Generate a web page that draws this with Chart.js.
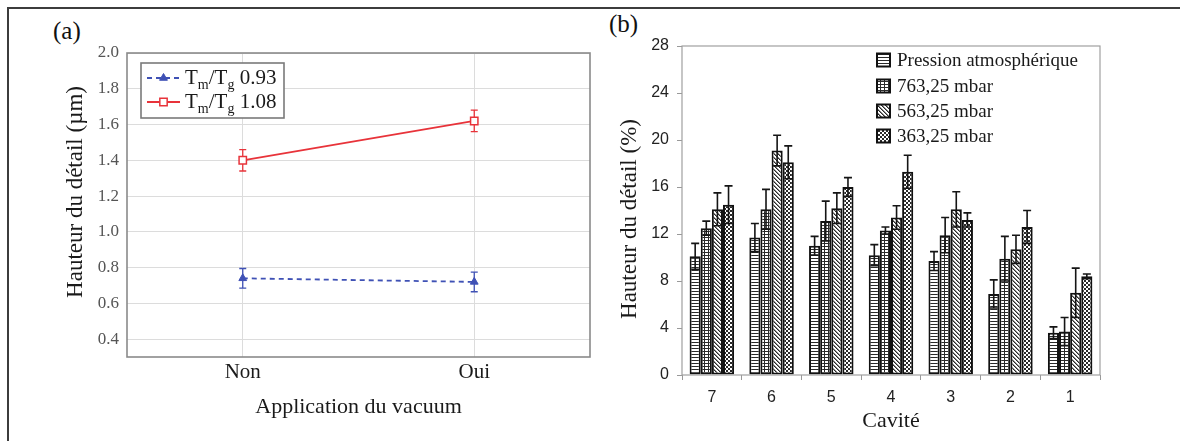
<!DOCTYPE html>
<html><head><meta charset="utf-8">
<script src="https://cdn.jsdelivr.net/npm/chart.js@4.4.0/dist/chart.umd.min.js"></script>
<style>
html,body{margin:0;padding:0;background:#fff;width:1180px;height:441px;overflow:hidden;position:relative;}
#frame{position:absolute;left:7px;top:7px;width:1200px;height:500px;border-left:2px solid #3c3c3c;border-top:2px solid #3c3c3c;}
#ca{position:absolute;left:0;top:0;}
#cb{position:absolute;left:600px;top:0;}
.lab{position:absolute;font-family:"Liberation Serif",serif;font-size:25px;color:#111;line-height:1;}
</style></head>
<body>
<div id="frame"></div>
<div class="lab" style="left:53px;top:18px">(a)</div>
<div class="lab" style="left:609px;top:11px">(b)</div>
<canvas id="ca" width="600" height="441" style="width:600px;height:441px"></canvas>
<canvas id="cb" width="580" height="441" style="width:580px;height:441px"></canvas>
<script>
// ---------- data (a) ----------
const vacuumLabels = ['Non', 'Oui'];
const seriesA = ['0.93', '1.08'];
const height093 = [0.74, 0.72];
const err093 = [0.055, 0.055];
const height108 = [1.40, 1.62];
const err108 = [0.06, 0.06];
const yTicksA = [0.4, 0.6, 0.8, 1.0, 1.2, 1.4, 1.6, 1.8, 2.0];
const titleXA = 'Application du vacuum';
const titleYA = 'Hauteur du détail (µm)';

// ---------- data (b) ----------
const cavities = ['7', '6', '5', '4', '3', '2', '1'];
const seriesB = ['Pression atmosphérique', '763,25 mbar', '563,25 mbar', '363,25 mbar'];
const atm = [10.1, 11.7, 11.0, 10.2, 9.7, 6.9, 3.6];
const atmErr = [1.1, 1.2, 0.8, 0.9, 0.8, 1.2, 0.5];
const p763 = [12.5, 14.1, 13.1, 12.3, 11.9, 9.9, 3.7];
const p763Err = [0.6, 1.7, 1.7, 0.3, 1.5, 1.9, 1.2];
const p563 = [14.1, 19.1, 14.2, 13.4, 14.1, 10.7, 7.0];
const p563Err = [1.4, 1.3, 1.3, 1.0, 1.5, 1.2, 2.1];
const p363 = [14.5, 18.1, 16.0, 17.3, 13.2, 12.6, 8.4];
const p363Err = [1.6, 1.4, 0.8, 1.4, 0.6, 1.4, 0.2];
const titleXB = 'Cavité';
const titleYB = 'Hauteur du détail (%)';

const SERIF = '"Liberation Serif", "Times New Roman", serif';
const SANS = '"Liberation Sans", Arial, sans-serif';
const BLUE = '#3f51b5';
const RED = '#e8333a';

// ---------- patterns ----------
function makePattern(type) {
  const c = document.createElement('canvas');
  const dark = '#2a2a2a';
  if (type === 'h') { c.width = 3; c.height = 3; }
  else if (type === 'grid') { c.width = 4; c.height = 3; }
  else { c.width = 4; c.height = 4; }
  const g = c.getContext('2d');
  g.fillStyle = '#fff'; g.fillRect(0, 0, c.width, c.height);
  g.fillStyle = dark;
  if (type === 'h') { g.fillRect(0, 0, 3, 1); }
  else if (type === 'grid') { g.fillRect(0, 0, 4, 1); g.fillRect(0, 0, 1, 3); }
  else if (type === 'diag') {
    for (let i = 0; i < 4; i++) g.fillRect(i, i, 1, 1);
    g.fillStyle = '#888';
    for (let i = 0; i < 4; i++) g.fillRect((i + 1) % 4, i, 1, 1);
  } else if (type === 'check') { g.fillRect(0, 0, 2, 2); g.fillRect(2, 2, 2, 2); }
  const ctx = document.getElementById('cb').getContext('2d');
  return ctx.createPattern(c, 'repeat');
}
const patterns = [makePattern('h'), makePattern('grid'), makePattern('diag'), makePattern('check')];

// ---------- helpers ----------
function drawRotTitle(ctx, text, x, y, size) {
  ctx.save();
  ctx.translate(x, y);
  ctx.rotate(-Math.PI / 2);
  ctx.font = size + 'px ' + SERIF;
  ctx.fillStyle = '#1a1a1a';
  ctx.textAlign = 'center';
  ctx.textBaseline = 'middle';
  ctx.fillText(text, 0, 0);
  ctx.restore();
}
function drawSubText(ctx, x, y, ratio) {
  const parts = [['T', 21, 0], ['m', 14, 5], ['/', 21, 0], ['T', 21, 0], ['g', 14, 5], [' ' + ratio, 21, 0]];
  ctx.save();
  ctx.fillStyle = '#1a1a1a';
  ctx.textBaseline = 'alphabetic';
  ctx.textAlign = 'left';
  for (const [t, s, dy] of parts) {
    ctx.font = s + 'px ' + SERIF;
    ctx.fillText(t, x, y + dy);
    x += ctx.measureText(t).width;
  }
  ctx.restore();
}

// ---------- chart (a) plugins ----------
const frameA = {
  id: 'frameA',
  beforeDatasetsDraw(chart) {
    const { ctx, chartArea: a } = chart;
    ctx.save();
    ctx.strokeStyle = '#8a8a8a';
    ctx.lineWidth = 1.6;
    ctx.strokeRect(a.left, a.top, a.right - a.left, a.bottom - a.top);
    ctx.restore();
    // error bars under the markers
    const y = chart.scales.y;
    chart.data.datasets.forEach((ds, i) => {
      const meta = chart.getDatasetMeta(i);
      ctx.save();
      ctx.strokeStyle = ds.borderColor;
      ctx.lineWidth = 1.3;
      meta.data.forEach((pt, j) => {
        const v = ds.data[j], e = ds.errors[j];
        const yt = y.getPixelForValue(v + e), yb = y.getPixelForValue(v - e);
        ctx.beginPath();
        ctx.moveTo(pt.x, yt); ctx.lineTo(pt.x, yb);
        ctx.moveTo(pt.x - 3.5, yt); ctx.lineTo(pt.x + 3.5, yt);
        ctx.moveTo(pt.x - 3.5, yb); ctx.lineTo(pt.x + 3.5, yb);
        ctx.stroke();
      });
      ctx.restore();
    });
  },
  afterDraw(chart) {
    const { ctx } = chart;
    drawRotTitle(ctx, titleYA, 76, 192, 23);
    // legend
    ctx.save();
    ctx.fillStyle = '#fff';
    ctx.strokeStyle = '#7a7a7a';
    ctx.lineWidth = 1.6;
    ctx.fillRect(141, 63, 143, 55);
    ctx.strokeRect(141, 63, 143, 55);
    const rows = [78, 102];
    chart.data.datasets.forEach((ds, i) => {
      const ry = rows[i];
      ctx.save();
      ctx.strokeStyle = ds.borderColor;
      ctx.lineWidth = ds.borderWidth;
      ctx.setLineDash(ds.borderDash || []);
      ctx.beginPath(); ctx.moveTo(147, ry); ctx.lineTo(180, ry); ctx.stroke();
      ctx.restore();
      ctx.save();
      ctx.fillStyle = ds.pointBackgroundColor; ctx.strokeStyle = ds.pointBorderColor; ctx.lineWidth = ds.pointBorderWidth;
      ctx.beginPath();
      if (ds.pointStyle === 'triangle') {
        const r = ds.pointRadius;
        ctx.moveTo(163.5, ry - r); ctx.lineTo(163.5 + r * 0.87, ry + r * 0.5); ctx.lineTo(163.5 - r * 0.87, ry + r * 0.5); ctx.closePath();
        ctx.fill(); ctx.stroke();
      } else {
        const s = ds.pointRadius * Math.SQRT1_2;
        ctx.rect(163.5 - s, ry - s, 2 * s, 2 * s); ctx.fill(); ctx.stroke();
      }
      ctx.restore();
      drawSubText(ctx, 185, ry + 6, seriesA[i]);
    });
    ctx.restore();
  }
};

new Chart(document.getElementById('ca'), {
  type: 'line',
  data: {
    labels: vacuumLabels,
    datasets: [
      {
        label: 'Tm/Tg ' + seriesA[0], data: height093, errors: err093,
        borderColor: BLUE, backgroundColor: BLUE, borderWidth: 1.8, borderDash: [5, 4],
        pointStyle: 'triangle', pointRadius: 4.5, pointBackgroundColor: BLUE, pointBorderColor: BLUE,
        pointBorderWidth: 1, tension: 0, fill: false
      },
      {
        label: 'Tm/Tg ' + seriesA[1], data: height108, errors: err108,
        borderColor: RED, backgroundColor: RED, borderWidth: 1.8,
        pointStyle: 'rect', pointRadius: 5.2, pointBackgroundColor: '#fff', pointBorderColor: RED,
        pointBorderWidth: 1.5, tension: 0, fill: false
      }
    ]
  },
  options: {
    responsive: false, animation: false, events: [],
    layout: { padding: { left: 0, top: 53, right: 10, bottom: 0 } },
    plugins: { legend: { display: false }, tooltip: { enabled: false } },
    scales: {
      x: {
        type: 'category', offset: true,
        grid: { color: '#dcdcdc', drawTicks: false, lineWidth: 1 },
        border: { display: false },
        ticks: { padding: 3, color: '#1a1a1a', font: { family: SERIF, size: 21 } },
        title: { display: true, text: titleXA, color: '#1a1a1a', font: { family: SERIF, size: 22 }, padding: { top: 0, bottom: 21 } },
        afterFit: s => { s.height = 84; }
      },
      y: {
        min: 0.3, max: 2.0,
        afterBuildTicks: s => { s.ticks = yTicksA.map(v => ({ value: v })); },
        grid: { color: '#dcdcdc', drawTicks: false, lineWidth: 1 },
        border: { display: false },
        ticks: { padding: 8, color: '#555', font: { family: SERIF, size: 17 }, callback: v => Number(v).toFixed(1) },
        afterFit: s => { s.width = 127; }
      }
    }
  },
  plugins: [frameA]
});

// ---------- chart (b) ----------
const pluginB = {
  id: 'pluginB',
  afterDatasetsDraw(chart) {
    const { ctx, chartArea: a } = chart;
    const y = chart.scales.y;
    ctx.save();
    ctx.strokeStyle = '#a0a0a0';
    ctx.lineWidth = 1.2;
    ctx.strokeRect(a.left, a.top, a.right - a.left, a.bottom - a.top);
    ctx.strokeStyle = '#151515';
    ctx.lineWidth = 1.6;
    chart.data.datasets.forEach((ds, i) => {
      const meta = chart.getDatasetMeta(i);
      meta.data.forEach((bar, j) => {
        const v = ds.data[j], e = ds.errors[j];
        const x = bar.x;
        const yt = y.getPixelForValue(v + e), yb = y.getPixelForValue(v - e);
        ctx.beginPath();
        ctx.moveTo(x, yt); ctx.lineTo(x, yb);
        ctx.moveTo(x - 4, yt); ctx.lineTo(x + 4, yt);
        ctx.moveTo(x - 4, yb); ctx.lineTo(x + 4, yb);
        ctx.stroke();
      });
    });
    ctx.restore();
  },
  afterDraw(chart) {
    const { ctx } = chart;
    drawRotTitle(ctx, titleYB, 30, 219, 23);
    const rows = [60, 86, 111, 136];
    ctx.save();
    chart.data.datasets.forEach((ds, i) => {
      const ry = rows[i];
      ctx.fillStyle = ds.backgroundColor;
      ctx.fillRect(277, ry - 6.5, 13, 13);
      ctx.strokeStyle = '#111';
      ctx.lineWidth = 2;
      ctx.strokeRect(277, ry - 6.5, 13, 13);
      ctx.fillStyle = '#1a1a1a';
      ctx.font = '19px ' + SERIF;
      ctx.textBaseline = 'middle';
      ctx.textAlign = 'left';
      ctx.fillText(seriesB[i], 297, ry + 1);
    });
    ctx.restore();
  }
};

const valuesB = [atm, p763, p563, p363];
const errorsB = [atmErr, p763Err, p563Err, p363Err];
new Chart(document.getElementById('cb'), {
  type: 'bar',
  data: {
    labels: cavities,
    datasets: seriesB.map((name, i) => ({
      label: name, data: valuesB[i], errors: errorsB[i],
      backgroundColor: patterns[i], borderColor: '#111', borderWidth: 2, borderSkipped: false,
      categoryPercentage: 0.745, barPercentage: 1.0
    }))
  },
  options: {
    responsive: false, animation: false, events: [],
    layout: { padding: { left: 0, top: 46, right: 80, bottom: 0 } },
    plugins: { legend: { display: false }, tooltip: { enabled: false } },
    scales: {
      x: {
        type: 'category', offset: true,
        grid: { offset: true, drawOnChartArea: false, drawTicks: true, tickLength: 5, color: '#999' },
        border: { display: false },
        ticks: { padding: 8, color: '#222', font: { family: SANS, size: 16 } },
        title: { display: true, text: titleXB, color: '#1a1a1a', font: { family: SERIF, size: 22 }, padding: { top: 0, bottom: 7 } },
        afterFit: s => { s.height = 66; }
      },
      y: {
        min: 0, max: 28,
        ticks: { stepSize: 4, padding: 8, color: '#222', font: { family: SANS, size: 16 } },
        grid: { drawOnChartArea: false, drawTicks: true, tickLength: 5, color: '#999' },
        border: { display: false },
        afterFit: s => { s.width = 82; }
      }
    }
  },
  plugins: [pluginB]
});
</script>
</body></html>
